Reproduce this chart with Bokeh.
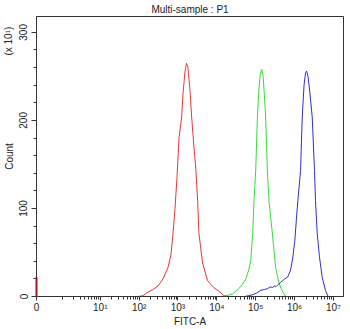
import numpy as np
from bokeh.plotting import figure
from bokeh.models import Range1d, FixedTicker, LinearAxis
from bokeh.embed import file_html
from bokeh.resources import INLINE

# FITC-A intensities and event counts for each sample
red_fitc = [94, 127, 170, 229, 307, 412, 554, 662, 745, 838, 943, 1061, 1245, 1343,
            1511, 1651, 1804, 2030, 2244, 2570, 2894, 3200, 3454, 4295, 5776, 8375,
            11250, 15100, 20300]
red_count = [0, 1, 5, 8, 12, 20, 33, 48, 72, 100, 135, 180, 204, 230,
             255, 265, 260, 235, 204, 170, 143, 109, 72, 38, 18, 10,
             6, 1, 0]
red_zero_count = 22  # events piled up at zero

green_fitc = [14250, 18040, 25700, 36650, 46450, 55450, 66200, 74500, 83800, 90400,
              100000, 110600, 119400, 130400, 142600, 155600, 180400, 199400, 219300,
              242500, 268000, 298000, 325800, 366600, 395700, 450700, 501200, 587500]
green_count = [0, 1, 3, 9, 14, 20, 30, 41, 72, 109,
               143, 204, 232, 252, 258, 250, 204, 143, 109,
               90, 72, 50, 33, 22, 15, 9, 5, 0]

blue_fitc = [52240, 66200, 83800, 106100, 134300, 170100, 203100, 240000, 272900,
             300000, 330000, 366600, 437500, 492300, 560000, 662100, 789000, 903700,
             1018000, 1106000, 1216000, 1344000, 1426000, 1575000, 1753000, 1915000,
             2032000, 2220000, 2497000, 2843000, 3259000, 3455000, 3816000, 4375000,
             5129000, 6235000, 7310000]
blue_count = [0, 1, 2, 4, 7, 8, 9, 11, 10,
              12, 11, 13, 16, 18, 20, 22, 30, 45,
              64, 86, 109, 130, 143, 204, 240, 254,
              256, 250, 230, 204, 143, 109, 72, 45,
              22, 7, 0]

x_tick_values = [0, 1e1, 1e2, 1e3, 1e4, 1e5, 1e6, 1e7]
x_tick_labels = ["0", "10¹", "10²", "10³", "10⁴", "10⁵", "10⁶", "10⁷"]
y_tick_values = [0, 100, 200, 300]
y_title = "Count"
y_multiplier = "(x 10¹)"

# biexponential (arcsinh) display scale, in decades
W = 0.2286


def biex(v):
    return np.arcsinh(np.asarray(v, dtype=float) / (2 * W)) / np.log(10)


x_max = 7.9
y_max = 318

p = figure(width=350, height=329, output_backend="svg", toolbar_location=None,
           x_range=Range1d(0, x_max), y_range=Range1d(0, y_max),
           min_border_left=35, min_border_right=7, min_border_top=16,
           min_border_bottom=33)
p.background_fill_color = "white"
p.border_fill_color = "white"
p.outline_line_color = "#333333"
p.outline_line_width = 1
p.grid.visible = False

FONT = "Liberation Sans"
TXT = "#222222"

p.title.text = "Multi-sample : P1"
p.title.align = "center"
p.title.text_font = FONT
p.title.text_font_size = "10px"
p.title.text_font_style = "normal"
p.title.text_color = TXT
p.title.standoff = 3

# x axis ticks: decades plus minor ticks
minor_x = [biex(m) for m in range(1, 10)]
for k in range(1, 7):
    for m in range(2, 10):
        minor_x.append(biex(m * 10 ** k))
major_x = [float(biex(v)) for v in x_tick_values]
p.xaxis.ticker = FixedTicker(ticks=major_x, minor_ticks=[float(v) for v in minor_x])
p.xaxis.major_label_overrides = {t: l for t, l in zip(major_x, x_tick_labels)}
p.xaxis.axis_label = "FITC-A"

p.yaxis.ticker = FixedTicker(ticks=y_tick_values,
                             minor_ticks=[v for v in range(20, 320, 20) if v % 100])
p.yaxis.major_label_orientation = "vertical"

for ax in (p.xaxis[0], p.yaxis[0]):
    ax.axis_line_color = "#333333"
    ax.major_tick_line_color = "#333333"
    ax.minor_tick_line_color = "#333333"
    ax.major_tick_out = 5
    ax.major_tick_in = 0
    ax.minor_tick_out = 3
    ax.minor_tick_in = 0
    ax.major_label_text_font = FONT
    ax.major_label_text_font_size = "10px"
    ax.major_label_text_color = TXT
    ax.axis_label_text_font = FONT
    ax.axis_label_text_font_size = "10px"
    ax.axis_label_text_font_style = "normal"
    ax.axis_label_text_color = TXT

p.xaxis.major_tick_out = 4
p.xaxis.major_label_standoff = 1
p.xaxis.axis_label_standoff = 0
p.yaxis.major_label_standoff = 4

# outer text column on the left: the axis title at mid-height and the
# count multiplier near the top
title_y = y_max / 2
mult_y = 290
outer = LinearAxis(ticker=FixedTicker(ticks=[title_y, mult_y]),
                   major_label_overrides={title_y: y_title, mult_y: y_multiplier},
                   major_label_orientation="vertical",
                   axis_line_color=None, major_tick_line_color=None,
                   minor_tick_line_color=None, major_tick_out=0, major_tick_in=0,
                   major_label_standoff=2, major_label_text_font=FONT,
                   major_label_text_font_size="10px", major_label_text_color=TXT)
p.add_layout(outer, "left")

p.line(biex(red_fitc), red_count, line_color="#e23a3a", line_width=1)
p.line(biex(green_fitc), green_count, line_color="#3ad83a", line_width=1)
p.line(biex(blue_fitc), blue_count, line_color="#3030c8", line_width=1)
p.segment(x0=[0.0], y0=[0], x1=[0.0], y1=[red_zero_count],
          line_color="#a01818", line_width=2, level="overlay")

open("out.html", "w").write(file_html(p, INLINE))
